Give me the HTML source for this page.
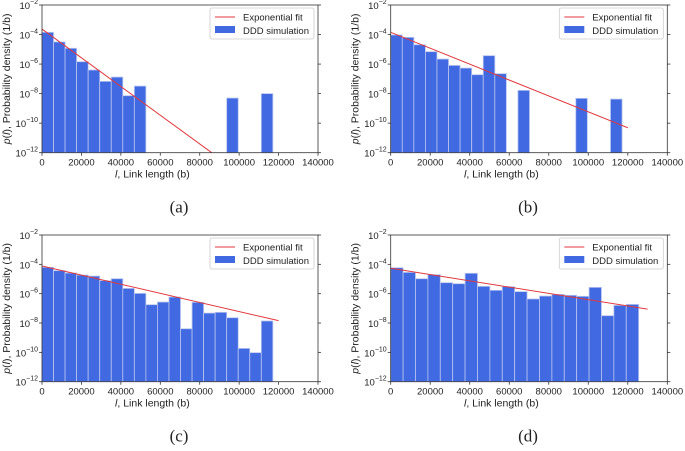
<!DOCTYPE html>
<html><head><meta charset="utf-8"><style>
body{margin:0;background:#fff}
svg text{font-family:"Liberation Sans",sans-serif;fill:#222}
</style></head><body>
<svg id="fig" width="685" height="446" viewBox="0 0 685 446" xmlns="http://www.w3.org/2000/svg"></svg>
<script>
// Data: bar heights as log10 of probability density
const panelLabels = ["(a)","(b)","(c)","(d)"];
const binWidthA = 5855, binWidthB = 5855, binWidthC = 5855, binWidthD = 6275;
const barsA = [-3.85,-4.5,-4.93,-5.84,-6.4,-7.17,-6.88,-8.14,-7.49,null,null,null,null,null,null,null,-8.3,null,null,-8.0];
const barsB = [-4.03,-4.19,-4.69,-5.16,-5.66,-6.09,-6.27,-6.72,-5.43,-6.65,null,-7.78,null,null,null,null,-8.32,null,null,-8.37];
const barsC = [-4.2,-4.43,-4.59,-4.73,-4.8,-5.11,-4.98,-5.64,-5.98,-6.75,-6.57,-6.23,-8.39,-6.59,-7.32,-7.27,-7.64,-9.73,-10.02,-7.86];
const barsD = [-4.23,-4.55,-4.98,-4.7,-5.25,-5.32,-4.61,-5.5,-5.77,-5.52,-5.86,-6.36,-6.16,-6.05,-6.11,-6.18,-5.57,-7.5,-6.8,-6.73];
// Exponential fit lines: [x0, log0, x1, log1]
const fitA = [0,-3.63,86100,-12];
const fitB = [0,-3.85,120000,-10.31];
const fitC = [0,-4.11,120000,-7.84];
const fitD = [0,-4.27,130000,-7.05];
const xTicks = [0,20000,40000,60000,80000,100000,120000,140000];
const yTicks = [-12,-10,-8,-6,-4,-2];

const NS="http://www.w3.org/2000/svg";
const fig=document.getElementById('fig');
function mk(tag,attrs,parent){const e=document.createElementNS(NS,tag);for(const k in attrs)e.setAttribute(k,attrs[k]);(parent||fig).appendChild(e);return e;}

const panels=[
 {L:42,T:5,W:276,H:147.7,bars:barsA,bw:binWidthA,fit:fitA,cap:panelLabels[0]},
 {L:390.7,T:5,W:276.6,H:147.7,bars:barsB,bw:binWidthB,fit:fitB,cap:panelLabels[1]},
 {L:42,T:235,W:276,H:146.7,bars:barsC,bw:binWidthC,fit:fitC,cap:panelLabels[2]},
 {L:390.7,T:235,W:276.6,H:146.7,bars:barsD,bw:binWidthD,fit:fitD,cap:panelLabels[3]}
];
panels.forEach((p,pi)=>{
 const g=mk('g',{});
 
 
 const xs=v=>p.L+v/140000*p.W;
 const ys=v=>p.T+(-2-v)/10*p.H;
 p.bars.forEach((b,i)=>{
  if(b===null)return;
  const x0=xs(i*p.bw),x1=xs((i+1)*p.bw),y=ys(b);
  const r=mk('rect',{x:x0,y:y,width:x1-x0,height:p.T+p.H-y,fill:'#4169e1',stroke:'#b8c6f0','stroke-width':0.8},g);
  
  
 });
 const f=p.fit;
 const ln=mk('line',{x1:xs(f[0]),y1:ys(f[1]),x2:xs(f[2]),y2:ys(f[3]),stroke:'#e0393e','stroke-width':1},g);
 
 
 const fr=mk('rect',{x:p.L,y:p.T,width:p.W,height:p.H,fill:'none',stroke:'#333','stroke-width':0.8},g);
 
 
 xTicks.forEach(t=>{
  const x=xs(t);
  mk('line',{x1:x,x2:x,y1:p.T+p.H,y2:p.T+p.H+3,stroke:'#333','stroke-width':0.8},g);
  const tx=mk('text',{x:x,y:p.T+p.H+13,'font-size':9.5,'text-anchor':'middle'},g);
  tx.textContent=t;
  
  
 });
 yTicks.forEach(t=>{
  const y=ys(t);
  mk('line',{x1:p.L-3,x2:p.L,y1:y,y2:y,stroke:'#333','stroke-width':0.8},g);
  mk('line',{x1:p.L+p.W,x2:p.L+p.W+3,y1:y,y2:y,stroke:'#333','stroke-width':0.8},g);
  const tx=mk('text',{x:p.L-4,y:y+4,'font-size':9.5,'text-anchor':'end'},g);
  tx.innerHTML='10<tspan dy="-5" font-size="7">\u2212'+(-t)+'</tspan>';
  
  
 });
 const xt=mk('text',{x:p.L+p.W*0.4,y:p.T+p.H+25,'font-size':10.5,'text-anchor':'middle'},g);
 xt.innerHTML='<tspan font-style="italic">l</tspan>, Link length (b)';
 
 
 const cy=p.T+p.H/2;
 const yt=mk('text',{x:p.L-32,y:cy,'font-size':10.5,'text-anchor':'middle',transform:`rotate(-90 ${p.L-32} ${cy})`},g);
 yt.innerHTML='<tspan font-style="italic">p</tspan>(<tspan font-style="italic">l</tspan>), Probability density (1/b)';
 
 
 // legend
 const lx=p.L+p.W-108, ly=p.T+3;
 const lg=mk('g',{},g);
 
 
 mk('rect',{x:lx,y:ly,width:104,height:31,fill:'#fff',stroke:'#ccc','stroke-width':0.8,rx:2},lg);
 mk('line',{x1:lx+5,x2:lx+25,y1:ly+9,y2:ly+9,stroke:'#e0393e','stroke-width':1},lg);
 mk('rect',{x:lx+5,y:ly+18,width:20,height:7,fill:'#4169e1'},lg);
 const t1=mk('text',{x:lx+33,y:ly+12.5,'font-size':9.5},lg);t1.textContent='Exponential fit';
 
 
 const t2=mk('text',{x:lx+33,y:ly+26,'font-size':9.5},lg);t2.textContent='DDD simulation';
 
 
 const cap=mk('text',{x:p.L+p.W/2-1,y:p.T+p.H+60,'font-size':17,'text-anchor':'middle',style:'font-family:"Liberation Serif",serif'},g);
 cap.textContent=p.cap;
 
 
});
</script>
</body></html>
